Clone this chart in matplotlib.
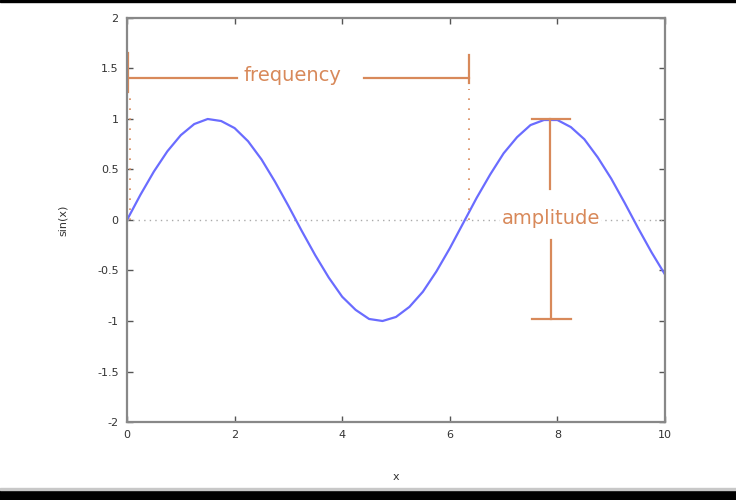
import numpy as np
import matplotlib
matplotlib.use("Agg")
import matplotlib.pyplot as plt
from matplotlib.patches import Rectangle

# sin(x) every 0.25 in x
x_vals = [i * 0.25 for i in range(41)]
y_vals = [0.00, 0.25, 0.48, 0.68, 0.84, 0.95, 1.00, 0.98, 0.91, 0.78,
          0.60, 0.38, 0.14, -0.11, -0.35, -0.57, -0.76, -0.89, -0.98, -1.00,
          -0.96, -0.86, -0.71, -0.51, -0.28, -0.03, 0.22, 0.45, 0.66, 0.82,
          0.94, 0.99, 0.99, 0.92, 0.80, 0.62, 0.41, 0.17, -0.08, -0.32, -0.54]

x_ticks = [0, 2, 4, 6, 8, 10]
y_ticks = [-2, -1.5, -1, -0.5, 0, 0.5, 1, 1.5, 2]
y_ticklabels = ["-2", "-1.5", "-1", "-0.5", "0", "0.5", "1", "1.5", "2"]

ORANGE = "#d8895a"
BLUE = "#6a6cff"

fig = plt.figure(figsize=(7.36, 5.0), dpi=100)
ax = fig.add_axes([127 / 736, 1 - 422 / 500, (665 - 127) / 736, (422 - 18) / 500])

# black bands at top and bottom of the screenshot
fig.patches.append(Rectangle((0, 1 - 2 / 500), 1, 2 / 500, transform=fig.transFigure,
                             color="black", zorder=0))
fig.patches.append(Rectangle((0, 0), 1, 10 / 500, transform=fig.transFigure,
                             color="black", zorder=0))
fig.patches.append(Rectangle((0, 10 / 500), 1, 2 / 500, transform=fig.transFigure,
                             color="#c8c8c8", zorder=0))

ax.plot([0, 10], [0, 0], ls=(0, (1, 3)), color="#aaaaaa", lw=1.0)
ax.plot(x_vals, y_vals, color=BLUE, lw=1.6)

# frequency annotation
fy = 1.41
ax.plot([0.02, 2.05], [fy, fy], color=ORANGE, lw=1.6)
ax.plot([4.4, 6.35], [fy, fy], color=ORANGE, lw=1.6)
ax.plot([0.02, 0.02], [1.27, 1.65], color=ORANGE, lw=1.6)
ax.plot([6.35, 6.35], [1.36, 1.63], color=ORANGE, lw=1.6)
ax.plot([0.06, 0.06], [0.0, 1.25], color=ORANGE, lw=1.2, ls=(0, (1, 5)))
ax.plot([6.35, 6.35], [0.0, 1.3], color=ORANGE, lw=1.2, ls=(0, (1, 5)))
ax.text(3.08, 1.43, "frequency", color=ORANGE, fontsize=14, ha="center", va="center",
        family="DejaVu Sans")

# amplitude annotation
ax.plot([7.86, 7.86], [1.0, 0.31], color=ORANGE, lw=1.6)
ax.plot([7.88, 7.88], [-0.2, -0.98], color=ORANGE, lw=1.6)
ax.plot([7.53, 8.23], [1.0, 1.0], color=ORANGE, lw=1.6)
ax.plot([7.53, 8.25], [-0.98, -0.98], color=ORANGE, lw=1.6)
ax.text(7.88, 0.01, "amplitude", color=ORANGE, fontsize=14, ha="center", va="center",
        family="DejaVu Sans",
        bbox=dict(facecolor="white", edgecolor="none", pad=1))

ax.set_xlim(0, 10)
ax.set_ylim(-2, 2)
ax.set_xticks(x_ticks)
ax.set_yticks(y_ticks)
ax.set_yticklabels(y_ticklabels)
ax.tick_params(direction="in", length=4, width=1, color="#555555", labelsize=8,
               labelcolor="#333333", top=True, right=True, pad=6)
for s in ax.spines.values():
    s.set_color("#888888")
    s.set_linewidth(1.6)

ax.set_xlabel("x", fontsize=8, color="#333333", labelpad=23)
ax.set_ylabel("sin(x)", fontsize=8, color="#333333", labelpad=21)

fig.savefig("out.png", dpi=100)
